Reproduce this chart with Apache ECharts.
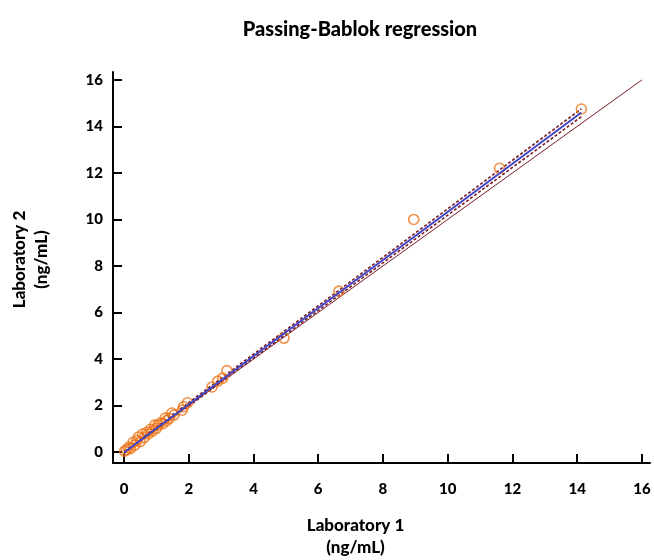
<!DOCTYPE html>
<html>
<head>
<meta charset="utf-8">
<title>Passing-Bablok regression</title>
<script src="https://cdn.jsdelivr.net/npm/echarts@6/dist/echarts.min.js"></script>
<style>
	html, body { margin: 0; padding: 0; background: #fff; }
	#chart { width: 654px; height: 560px; }
</style>
</head>
<body>
<div id="chart"></div>
<script>
// measured values, Laboratory 1 (x) vs Laboratory 2 (y), ng/mL
LAB1 = [0.02, 0.08, 0.14, 0.2, 0.28, 0.33, 0.4, 0.45, 0.5, 0.58, 0.62, 0.7, 0.75, 0.82, 0.88, 0.95, 1.0, 1.05, 1.12, 1.2, 1.27, 1.32, 1.4, 1.48, 1.55, 1.8, 1.84, 1.96, 2.72, 2.9, 3.05, 3.18, 4.94, 6.64, 8.95, 11.6, 14.13];
LAB2 = [0.04, 0.1, 0.2, 0.15, 0.42, 0.3, 0.5, 0.65, 0.45, 0.78, 0.62, 0.85, 0.78, 0.98, 0.9, 1.16, 1.02, 1.15, 1.25, 1.22, 1.46, 1.35, 1.45, 1.68, 1.6, 1.8, 1.95, 2.12, 2.8, 3.05, 3.18, 3.5, 4.9, 6.92, 10.0, 12.2, 14.75];

// regression line and its confidence limits (end points)
FIT_X = [0, 14.13];
FIT_Y = [-0.02, 14.6];
CI_UPPER_Y = [0.04, 14.76];
CI_LOWER_Y = [-0.07, 14.42];
IDENTITY = [0, 16];

TICKS = [0, 2, 4, 6, 8, 10, 12, 14, 16];

function pairs(xs, ys) {
	var out = [];
	for (var i = 0; i < xs.length; i++) {
		out.push([xs[i], ys[i]]);
	}
	return out;
}

var FONT = 'Lato';
var DARK_RED = '#7a1c24';

var myChart = echarts.init(document.getElementById('chart'));

var axisCommon = {
	type: 'value',
	splitLine: { show: false },
	axisLine: { show: true, onZero: false, lineStyle: { color: '#000', width: 2 } },
	axisTick: { show: true, inside: true, length: 9, customValues: TICKS, lineStyle: { color: '#000', width: 2 } },
	axisLabel: { customValues: TICKS, color: '#000', fontFamily: FONT, fontWeight: 900, fontSize: 15 },
	nameLocation: 'middle',
	nameTextStyle: { color: '#000', fontFamily: FONT, fontWeight: 900, fontSize: 17, lineHeight: 22 }
};

var option = {
	animation: false,
	title: {
		text: 'Passing-Bablok regression',
		left: 355,
		textAlign: 'center',
		top: 15,
		textStyle: { color: '#000', fontFamily: FONT, fontWeight: 900, fontSize: 20 }
	},
	grid: { left: 113, right: 4, top: 72, bottom: 97, outerBoundsMode: 'none', containLabel: false },
	xAxis: Object.assign({}, axisCommon, {
		min: -0.34,
		max: 16.25,
		name: 'Laboratory 1\n(ng/mL)',
		nameGap: 52,
		axisLabel: Object.assign({}, axisCommon.axisLabel, { margin: 19 }),
		nameTextStyle: Object.assign({}, axisCommon.nameTextStyle, { padding: [0, 52, 0, 0] })
	}),
	yAxis: Object.assign({}, axisCommon, {
		min: -0.47,
		max: 16.34,
		name: 'Laboratory 2\n(ng/mL)',
		nameGap: 60,
		axisLabel: Object.assign({}, axisCommon.axisLabel, { margin: 10 }),
		nameTextStyle: Object.assign({}, axisCommon.nameTextStyle, { padding: [0, 0, 0, 16] })
	}),
	series: [
		{
			name: 'identity',
			type: 'line',
			data: pairs(IDENTITY, IDENTITY),
			symbol: 'none',
			lineStyle: { color: DARK_RED, width: 1 },
			z: 2
		},
		{
			name: 'upper CI',
			type: 'line',
			data: pairs(FIT_X, CI_UPPER_Y),
			symbol: 'none',
			lineStyle: { color: DARK_RED, width: 1.6, type: [3, 2] },
			z: 3
		},
		{
			name: 'lower CI',
			type: 'line',
			data: pairs(FIT_X, CI_LOWER_Y),
			symbol: 'none',
			lineStyle: { color: DARK_RED, width: 1.6, type: [3, 2] },
			z: 3
		},
		{
			name: 'data',
			type: 'scatter',
			data: pairs(LAB1, LAB2),
			symbol: 'circle',
			symbolSize: 10,
			itemStyle: { color: 'rgba(255,255,255,0)', borderColor: '#ec7418', borderWidth: 1.6 },
			z: 4
		},
		{
			name: 'regression',
			type: 'line',
			data: pairs(FIT_X, FIT_Y),
			symbol: 'none',
			lineStyle: { color: '#3f44c8', width: 2 },
			z: 5
		}
	]
};

myChart.setOption(option);
</script>
</body>
</html>
